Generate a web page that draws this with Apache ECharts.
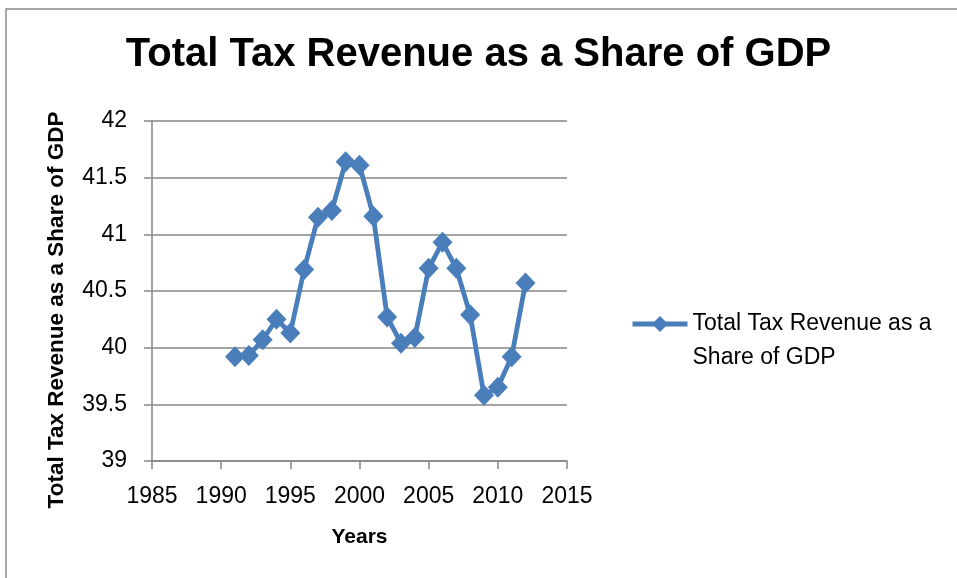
<!DOCTYPE html>
<html>
<head>
<meta charset="utf-8">
<title>Total Tax Revenue as a Share of GDP</title>
<script src="https://cdn.jsdelivr.net/npm/echarts@6/dist/echarts.min.js"></script>
<style>
  html, body { margin: 0; padding: 0; background: #ffffff; }
  #chart { width: 957px; height: 578px; }
</style>
</head>
<body>
<div id="chart"></div>
<script>
// Tax revenue as a share of GDP, by year
const years = [1991, 1992, 1993, 1994, 1995, 1996, 1997, 1998, 1999, 2000, 2001,
               2002, 2003, 2004, 2005, 2006, 2007, 2008, 2009, 2010, 2011, 2012];
const taxShare = [39.92, 39.93, 40.07, 40.25, 40.13, 40.69, 41.15, 41.21, 41.64, 41.61, 41.16,
                  40.27, 40.04, 40.09, 40.70, 40.93, 40.70, 40.29, 39.58, 39.65, 39.92, 40.57];

const chartTitle = 'Total Tax Revenue as a Share of GDP';
const seriesName = 'Total Tax Revenue as a Share of GDP';
const legendLines = ['Total Tax Revenue as a', 'Share of GDP'];
const xAxisName = 'Years';
const yAxisName = 'Total Tax Revenue as a Share of GDP';

const FONT = '"Liberation Sans", Arial, sans-serif';
const GRAY = '#868686';
const BLUE = '#4A7EBB';

const chart = echarts.init(document.getElementById('chart'), null, { renderer: 'canvas' });

chart.setOption({
  backgroundColor: '#ffffff',
  animation: false,
  title: {
    text: chartTitle,
    left: 'center',
    top: 30,
    textStyle: { fontFamily: FONT, fontSize: 40, fontWeight: 'bold', color: '#000000' }
  },
  graphic: [{
    type: 'rect',
    silent: true,
    shape: { x: 6, y: 9, width: 1200, height: 1000 },
    style: { fill: 'none', stroke: '#8a8a8a', lineWidth: 1.5 }
  }],
  legend: {
    left: 630,
    top: 273,
    padding: 0,
    itemWidth: 55,
    itemHeight: 20,
    itemGap: 5,
    // blank first line keeps the icon level with the first text line
    formatter: () => '\n' + legendLines.join('\n'),
    lineStyle: { color: BLUE, width: 5 },
    textStyle: { fontFamily: FONT, fontSize: 23, color: '#000000', lineHeight: 34 }
  },
  grid: { left: 152, right: 390, top: 121, bottom: 117, containLabel: false },
  xAxis: {
    type: 'value',
    min: 1985,
    max: 2015,
    interval: 5,
    name: xAxisName,
    nameLocation: 'middle',
    nameGap: 66,
    nameTextStyle: { fontFamily: FONT, fontSize: 21, fontWeight: 'bold', color: '#000000' },
    axisLine: { show: true, lineStyle: { color: GRAY, width: 1.5 } },
    axisTick: { show: true, inside: false, length: 8, lineStyle: { color: GRAY, width: 1.5 } },
    axisLabel: { fontFamily: FONT, fontSize: 23, color: '#000000', margin: 24, formatter: v => String(v) },
    splitLine: { show: false }
  },
  yAxis: {
    type: 'value',
    min: 39,
    max: 42,
    interval: 0.5,
    name: yAxisName,
    nameLocation: 'middle',
    nameGap: 84,
    nameRotate: 90,
    nameTextStyle: {
      fontFamily: FONT, fontSize: 22.5, fontWeight: 'bold', color: '#000000',
      padding: [0, 38, 0, 0]
    },
    axisLine: { show: true, lineStyle: { color: GRAY, width: 1.5 } },
    axisTick: { show: true, inside: false, length: 8, lineStyle: { color: GRAY, width: 1.5 } },
    axisLabel: { fontFamily: FONT, fontSize: 23, color: '#000000', margin: 25 },
    splitLine: { show: true, lineStyle: { color: GRAY, width: 1.5 } }
  },
  series: [{
    name: seriesName,
    type: 'line',
    data: years.map((y, i) => [y, taxShare[i]]),
    symbol: 'diamond',
    symbolSize: [20, 21],
    showAllSymbol: true,
    lineStyle: { color: BLUE, width: 4.8 },
    itemStyle: { color: BLUE, borderWidth: 0 },
    emphasis: { disabled: true }
  }]
});
</script>
</body>
</html>
